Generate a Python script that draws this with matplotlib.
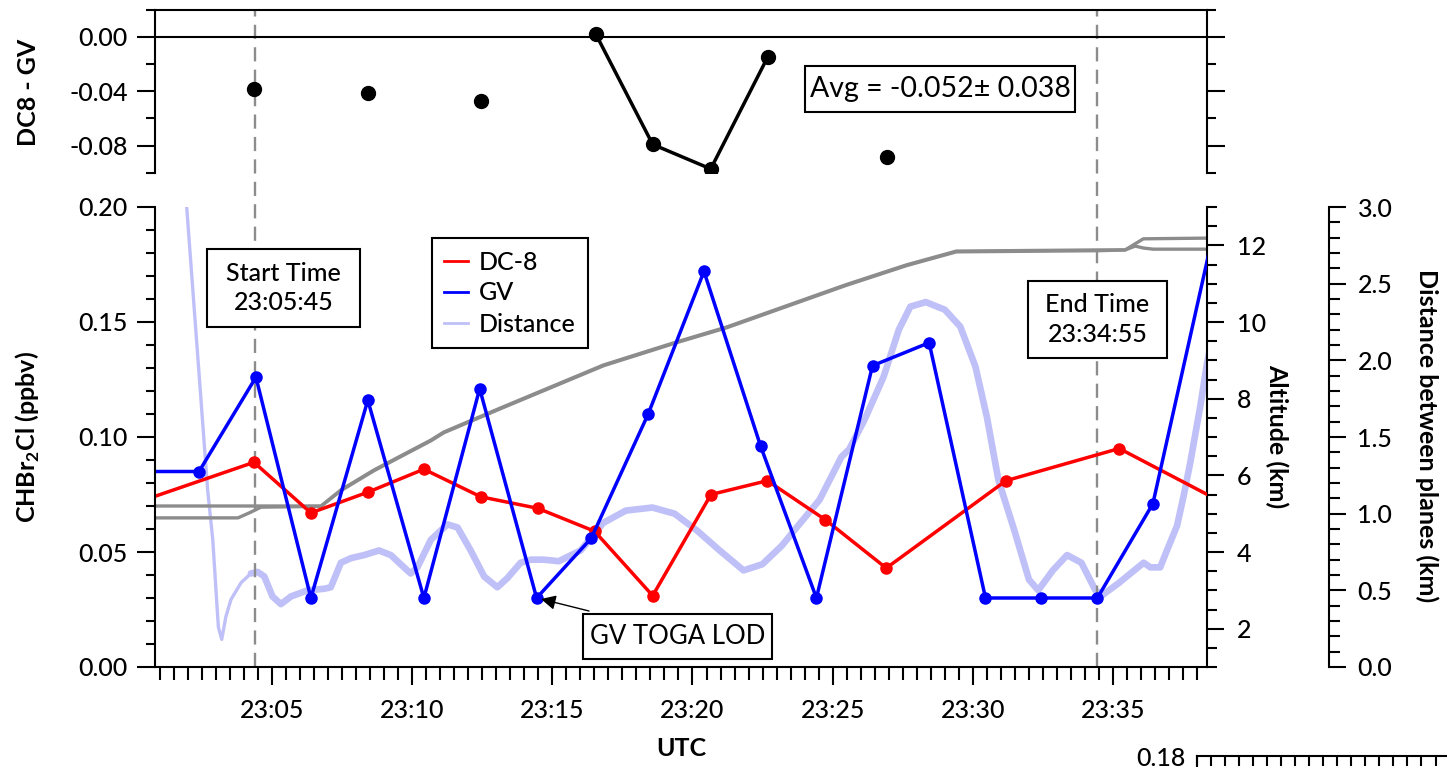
import matplotlib
matplotlib.use('Agg')
import matplotlib.pyplot as plt
import matplotlib.transforms as mtransforms
from matplotlib.lines import Line2D
from matplotlib.patches import Rectangle
from matplotlib.ticker import MultipleLocator, FixedLocator, FuncFormatter
from matplotlib import font_manager

# ---------------- data (time in minutes after 23:00 UTC) ----------------
gv_time = [0.40, 2.40, 4.43, 6.39, 8.42, 10.42, 12.41, 14.44, 16.39, 18.42,
           20.41, 22.43, 24.42, 26.42, 28.44, 30.45, 32.44, 34.44, 36.42, 38.60]
gv_chbr2cl = [0.085, 0.085, 0.126, 0.030, 0.116, 0.030, 0.121, 0.030, 0.056, 0.110,
              0.172, 0.096, 0.030, 0.131, 0.141, 0.030, 0.030, 0.030, 0.071, 0.190]

dc8_time = [0.30, 4.36, 6.39, 8.42, 10.42, 12.45, 14.48, 16.51, 18.58, 20.66,
            22.67, 24.74, 26.91, 31.18, 35.22, 39.30]
dc8_chbr2cl = [0.072, 0.089, 0.067, 0.076, 0.086, 0.074, 0.069, 0.059, 0.031, 0.075,
               0.081, 0.064, 0.043, 0.081, 0.095, 0.069]

diff_time = [4.36, 8.42, 12.45, 16.55, 18.58, 20.65, 22.68, 26.92]
diff_val = [-0.038, -0.041, -0.047, 0.002, -0.079, -0.097, -0.015, -0.088]
diff_connected = [False, False, False, True, True, True, True, False]

alt_a_time = [0.50, 6.75, 7.46, 8.64, 10.67, 11.13, 13.16, 16.83, 19.43, 21.22,
              25.46, 27.63, 29.41, 34.47, 35.43, 36.08, 38.60]
alt_a_km = [5.20, 5.20, 5.62, 6.14, 6.92, 7.13, 7.76, 8.88, 9.48, 9.87,
            10.97, 11.49, 11.85, 11.88, 11.88, 12.17, 12.19]
alt_b_time = [0.50, 3.79, 4.25, 4.61, 6.75, 7.46, 8.64, 10.67, 11.13, 13.16, 16.83,
              19.43, 21.22, 25.46, 27.63, 29.41, 34.47, 35.43, 35.79, 36.08, 36.43, 38.60]
alt_b_km = [4.89, 4.89, 5.04, 5.17, 5.19, 5.60, 6.12, 6.90, 7.11, 7.74, 8.86,
            9.46, 9.85, 10.95, 11.47, 11.83, 11.86, 11.88, 11.98, 11.93, 11.90, 11.90]

dist_time = [1.70, 1.96, 2.71, 2.89, 3.09, 3.21, 3.36, 3.54, 3.90, 4.25,
             4.49, 4.73, 5.02, 5.32, 5.68, 6.27, 6.86, 7.10, 7.46, 7.82,
             8.29, 8.82, 9.24, 9.71, 9.95, 10.19, 10.67, 11.26, 11.62, 12.09,
             12.57, 13.04, 13.40, 13.87, 14.23, 14.70, 15.23, 16.01, 16.82, 17.62,
             18.57, 19.36, 20.16, 20.97, 21.82, 22.49, 23.18, 23.85, 24.53, 25.31,
             25.59, 26.13, 26.81, 27.36, 27.77, 28.32, 29.00, 29.55, 30.09, 30.50,
             30.91, 31.48, 32.00, 32.33, 32.85, 33.36, 33.87, 34.37, 34.63, 35.22,
             36.09, 36.33, 36.68, 36.92, 37.28, 37.51, 37.75, 38.11, 38.35, 38.60]
dist_km = [3.60, 3.00, 1.15, 0.83, 0.26, 0.18, 0.33, 0.44, 0.55, 0.61,
           0.62, 0.59, 0.46, 0.41, 0.46, 0.50, 0.51, 0.52, 0.68, 0.71,
           0.73, 0.76, 0.73, 0.65, 0.61, 0.65, 0.83, 0.93, 0.91, 0.76,
           0.59, 0.52, 0.58, 0.68, 0.70, 0.70, 0.69, 0.76, 0.94, 1.02,
           1.04, 1.00, 0.89, 0.76, 0.63, 0.67, 0.79, 0.94, 1.09, 1.37,
           1.42, 1.61, 1.89, 2.20, 2.35, 2.38, 2.33, 2.22, 1.96, 1.63,
           1.22, 0.89, 0.57, 0.50, 0.63, 0.73, 0.68, 0.50, 0.47, 0.55,
           0.68, 0.65, 0.65, 0.76, 0.92, 1.11, 1.33, 1.70, 1.98, 2.20]
dist_thin_until = 4.25   # the early spike is drawn with a thinner trace

start_time = 4.41
end_time = 34.44
x_limits = (0.83, 38.35)

legend_labels = ['DC-8', 'GV', 'Distance']

# ---------------- styling ----------------
names = {f.name for f in font_manager.fontManager.ttflist}
MAIN = 'Lato' if 'Lato' in names else 'DejaVu Sans'
plt.rcParams['font.family'] = [MAIN, 'DejaVu Sans']
plt.rcParams['font.weight'] = 500
plt.rcParams['mathtext.fontset'] = 'custom'
plt.rcParams['mathtext.rm'] = MAIN + ':medium'
plt.rcParams['mathtext.bf'] = MAIN + ':bold'
plt.rcParams['axes.linewidth'] = 1.5

RED = '#ff0000'
BLUE = '#0000ff'
GRAY = '#8c8c8c'
LAV = '#c0c0f8'
FS = 18
LW = 2.5

W, H = 1447, 767
fig = plt.figure(figsize=(W / 100, H / 100), dpi=100)


def fx(px):
    return px / W


def fy(py):
    return 1 - py / H


main_rect = [fx(155), fy(667), (1207 - 155) / W, (667 - 207) / H]
ax_dist = fig.add_axes(main_rect)
ax_alt = fig.add_axes(main_rect)
ax = fig.add_axes(main_rect)
for a, z in ((ax_dist, 1), (ax_alt, 2), (ax, 3)):
    a.set_zorder(z)
    a.patch.set_visible(False)
    a.set_xlim(*x_limits)

# distance axis
for s in ax_dist.spines.values():
    s.set_visible(False)
ax_dist.spines['right'].set_visible(True)
ax_dist.spines['right'].set_position(('axes', (1329 - 155) / (1207 - 155)))
ax_dist.set_ylim(0, 3.0)
ax_dist.xaxis.set_visible(False)
ax_dist.yaxis.tick_right()
ax_dist.yaxis.set_major_locator(MultipleLocator(0.5))
ax_dist.yaxis.set_minor_locator(MultipleLocator(0.1))
ax_dist.yaxis.set_major_formatter(FuncFormatter(lambda v, p: f"{v:.1f}"))
ax_dist.tick_params(axis='y', which='major', direction='out', length=12.5, width=1.5, pad=8, labelsize=FS)
ax_dist.tick_params(axis='y', which='minor', direction='out', length=8, width=1.5)
thin_n = sum(1 for t in dist_time if t <= dist_thin_until)
ax_dist.plot(dist_time[:thin_n], dist_km[:thin_n], color=LAV, lw=2.4,
             solid_joinstyle='round', solid_capstyle='round')
ax_dist.plot(dist_time[thin_n - 1:], dist_km[thin_n - 1:], color=LAV, lw=4.8,
             solid_joinstyle='round', solid_capstyle='round')

# altitude axis
for s in ax_alt.spines.values():
    s.set_visible(False)
ax_alt.spines['right'].set_visible(True)
ax_alt.set_ylim(1, 13)
ax_alt.xaxis.set_visible(False)
ax_alt.yaxis.tick_right()
ax_alt.yaxis.set_major_locator(FixedLocator([2, 4, 6, 8, 10, 12]))
ax_alt.yaxis.set_minor_locator(MultipleLocator(0.5))
ax_alt.yaxis.set_major_formatter(FuncFormatter(lambda v, p: f"{v:.0f}"))
ax_alt.tick_params(axis='y', which='major', direction='out', length=12.5, width=1.5, pad=9, labelsize=FS)
ax_alt.tick_params(axis='y', which='minor', direction='out', length=7, width=1.5)
ax_alt.plot(alt_b_time, alt_b_km, color=GRAY, lw=2.4)
ax_alt.plot(alt_a_time, alt_a_km, color=GRAY, lw=2.4)

# main axis
ax.spines['top'].set_visible(False)
ax.spines['right'].set_visible(False)
ax.set_ylim(0, 0.20)
ax.yaxis.set_major_locator(MultipleLocator(0.05))
ax.yaxis.set_minor_locator(MultipleLocator(0.01))
ax.yaxis.set_major_formatter(FuncFormatter(lambda v, p: f"{v:.2f}"))
ax.xaxis.set_major_locator(MultipleLocator(5))
ax.xaxis.set_minor_locator(MultipleLocator(0.5))
ax.xaxis.set_major_formatter(FuncFormatter(lambda v, p: f"23:{int(round(v)):02d}"))
ax.tick_params(axis='y', which='major', direction='out', length=12.7, width=1.5, pad=7, labelsize=FS)
ax.tick_params(axis='y', which='minor', direction='out', length=6.3, width=1.5)
ax.tick_params(axis='x', which='major', direction='out', length=12.7, width=1.5, pad=10.5, labelsize=FS)
ax.tick_params(axis='x', which='minor', direction='out', length=9.5, width=1.5)

ax.plot(dc8_time, dc8_chbr2cl, color=RED, lw=LW, marker='o', ms=8)
ax.plot(gv_time, gv_chbr2cl, color=BLUE, lw=LW, marker='o', ms=8)

# top panel
ax_top = fig.add_axes([fx(155), fy(173), (1207 - 155) / W, (173 - 9.5) / H])
ax_top.set_zorder(3)
ax_top.patch.set_visible(False)
ax_top.set_xlim(*x_limits)
ax_top.set_ylim(-0.10, 0.02)
ax_top.spines['bottom'].set_visible(False)
ax_top.xaxis.set_visible(False)
ax_top.yaxis.set_ticks_position('both')
ax_top.yaxis.set_major_locator(FixedLocator([0.0, -0.04, -0.08]))
ax_top.yaxis.set_minor_locator(FixedLocator([0.02, -0.02, -0.06, -0.10]))
ax_top.yaxis.set_major_formatter(FuncFormatter(lambda v, p: f"{v:.2f}" if abs(v) > 1e-9 else "0.00"))
ax_top.tick_params(axis='y', which='major', direction='out', length=12.7, width=1.5, pad=7, labelsize=FS)
ax_top.tick_params(axis='y', which='minor', direction='out', length=6.3, width=1.5)
ax_top.axhline(0, color='black', lw=1.5)
seg_t = [t for t, c in zip(diff_time, diff_connected) if c]
seg_v = [v for v, c in zip(diff_val, diff_connected) if c]
ax_top.plot(seg_t, seg_v, color='black', lw=LW)
ax_top.plot(diff_time, diff_val, ls='none', marker='o', ms=10, color='black')

# dashed start / end lines spanning both panels
blend = mtransforms.blended_transform_factory(ax.transData, fig.transFigure)
for t in (start_time, end_time):
    ln = Line2D([t, t], [fy(667), fy(9.5)], transform=blend, color=GRAY, lw=1.7,
                ls=(0, (6, 3.5)), zorder=2.5)
    fig.add_artist(ln)

# legend
handles = [Line2D([], [], color=RED, lw=2), Line2D([], [], color=BLUE, lw=2),
           Line2D([], [], color=LAV, lw=2)]
leg = ax.legend(handles, legend_labels, loc='upper left', bbox_to_anchor=(fx(432), fy(238)),
                bbox_transform=fig.transFigure, frameon=True, fancybox=False, framealpha=1,
                edgecolor='black', fontsize=FS, handlelength=0.95, handletextpad=0.42,
                labelspacing=0.32, borderpad=0.5, borderaxespad=0)
leg.get_frame().set_linewidth(1.5)


def boxed(text, x0, y0, x1, y1, **kw):
    fig.add_artist(Rectangle((fx(x0), fy(y1)), fx(x1) - fx(x0), fy(y0) - fy(y1),
                             transform=fig.transFigure, fc='white', ec='black', lw=1.5, zorder=4))
    opts = dict(ha='center', va='center', fontsize=FS, zorder=5)
    opts.update(kw)
    fig.text(fx((x0 + x1) / 2), fy((y0 + y1) / 2), text, **opts)


boxed('Start Time\n23:05:45', 207, 249, 360, 327, linespacing=1.35)
boxed('End Time\n23:34:55', 1028, 281, 1167, 358, linespacing=1.35)
boxed('Avg = -0.052\u00b1 0.038', 805, 66, 1075, 112, fontweight=400, fontsize=20.5)
boxed('GV TOGA LOD', 583, 614, 772, 659, fontweight=400, fontsize=18.5)
ax.annotate('', xy=(fx(541), fy(599)), xycoords='figure fraction',
            xytext=(fx(589), fy(611)), textcoords='figure fraction',
            arrowprops=dict(arrowstyle='-|>', color='black', lw=1.0, mutation_scale=22,
                            shrinkA=0, shrinkB=0))

# axis labels
LBW = 700
fig.text(fx(28), fy(437), r'CHBr$_\mathbf{2}$Cl (ppbv)', rotation=90, ha='center', va='center',
         fontsize=FS, fontweight=LBW)
fig.text(fx(28), fy(92), 'DC8 - GV', rotation=90, ha='center', va='center',
         fontsize=FS, fontweight=LBW)
fig.text(fx(1277), fy(436), 'Altitude (km)', rotation=270, ha='center', va='center',
         fontsize=FS, fontweight=LBW)
fig.text(fx(1427), fy(436), 'Distance between planes (km)', rotation=270, ha='center', va='center',
         fontsize=FS, fontweight=LBW)
fig.text(fx(681), fy(749), 'UTC', ha='center', va='center', fontsize=FS, fontweight=LBW)

# cut-off panel fragment at bottom right
ax_b = fig.add_axes([fx(1197), fy(756) - 0.3, 0.3, 0.3])
ax_b.patch.set_visible(False)
ax_b.spines['right'].set_visible(False)
ax_b.spines['bottom'].set_visible(False)
ax_b.set_ylim(0, 0.18)
ax_b.set_xlim(0, 0.3 * W / 28.06)
ax_b.yaxis.set_major_locator(FixedLocator([0.18]))
ax_b.yaxis.set_major_formatter(FuncFormatter(lambda v, p: f"{v:.2f}"))
ax_b.tick_params(axis='y', which='major', length=0, pad=8, labelsize=FS)
ax_b.xaxis.set_ticks_position('top')
ax_b.xaxis.set_major_locator(MultipleLocator(0.5))
ax_b.tick_params(axis='x', which='major', direction='in', length=7, width=1.5, labeltop=False,
                 labelbottom=False)

fig.savefig('out.png', dpi=100)
